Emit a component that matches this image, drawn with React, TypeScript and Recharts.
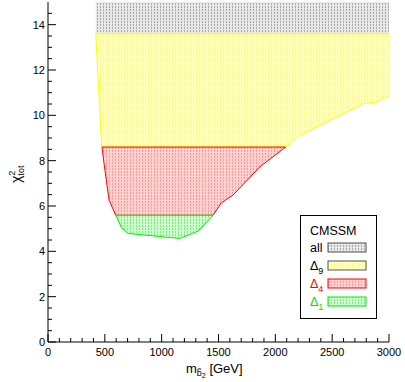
import {
  ComposedChart,
  Area,
  XAxis,
  YAxis,
  Legend,
} from "recharts";

// region boundaries: [x, low, high]
const allRegion = [
  { x: 420, band: [13.6, 15] },
  { x: 3000, band: [13.6, 15] },
];
const delta9Region = [
  { x: 420, band: [13.6, 13.6] },
  { x: 472, band: [8.6, 13.6] },
  { x: 2091, band: [8.6, 13.6] },
  { x: 2199, band: [9.07, 13.6] },
  { x: 2771, band: [10.51, 13.6] },
  { x: 2889, band: [10.59, 13.6] },
  { x: 3000, band: [10.86, 13.6] },
];
const delta4Region = [
  { x: 475, band: [8.6, 8.6] },
  { x: 493, band: [7.87, 8.6] },
  { x: 537, band: [6.26, 8.6] },
  { x: 596, band: [5.59, 8.6] },
  { x: 1452, band: [5.59, 8.6] },
  { x: 1525, band: [6.14, 8.6] },
  { x: 1628, band: [6.48, 8.6] },
  { x: 1862, band: [7.72, 8.6] },
  { x: 2091, band: [8.6, 8.6] },
];
const delta1Region = [
  { x: 596, band: [5.59, 5.59] },
  { x: 646, band: [5.05, 5.59] },
  { x: 704, band: [4.79, 5.59] },
  { x: 1159, band: [4.57, 5.59] },
  { x: 1320, band: [4.89, 5.59] },
  { x: 1452, band: [5.59, 5.59] },
];

const xMajor = [0, 500, 1000, 1500, 2000, 2500, 3000];
const yMajor = [0, 2, 4, 6, 8, 10, 12, 14];
const xTicks = Array.from({ length: 31 }, (_, i) => i * 100);
const yTicks = Array.from({ length: 30 }, (_, i) => i * 0.5);

const FONT = "Liberation Sans, Arial, sans-serif";

const hatches = [
  { id: "hAll", bg: "#e8e8e8", fg: "#a8a8a8" },
  { id: "hD9", bg: "#ffffc4", fg: "#ffff70" },
  { id: "hD4", bg: "#ffd2d2", fg: "#ff9a9a" },
  { id: "hD1", bg: "#d2ffd2", fg: "#78f078" },
];

const legendRows = [
  { label: "all", sub: "", color: "#000", fill: "url(#hAll)", border: "#555" },
  { label: "\u0394", sub: "9", color: "#000", fill: "url(#hD9)", border: "#555" },
  { label: "\u0394", sub: "4", color: "#ff0000", fill: "url(#hD4)", border: "#ff0000" },
  { label: "\u0394", sub: "1", color: "#00dd00", fill: "url(#hD1)", border: "#00ee00" },
];

const BottomTick = (props: any) => {
  const { x, y, payload } = props;
  const major = xMajor.includes(payload.value);
  return (
    <g>
      <line x1={x} x2={x} y1={y} y2={y - (major ? 8 : 4)} stroke="#000" />
      {major && (
        <text x={x} y={y + 14} textAnchor="middle" fontSize={11} fontFamily={FONT} fill="#000">
          {payload.value}
        </text>
      )}
    </g>
  );
};

const TopTick = (props: any) => {
  const { x, y, payload } = props;
  const major = xMajor.includes(payload.value);
  return <line x1={x} x2={x} y1={y} y2={y + (major ? 8 : 4)} stroke="#000" />;
};

const LeftTick = (props: any) => {
  const { x, y, payload } = props;
  const major = yMajor.includes(payload.value);
  return (
    <g>
      <line x1={x} x2={x + (major ? 8 : 4)} y1={y} y2={y} stroke="#000" />
      {major && (
        <text x={x - 3} y={y + 4} textAnchor="end" fontSize={11} fontFamily={FONT} fill="#000">
          {payload.value}
        </text>
      )}
    </g>
  );
};

const RightTick = (props: any) => {
  const { x, y, payload } = props;
  const major = yMajor.includes(payload.value);
  return <line x1={x} x2={x - (major ? 8 : 4)} y1={y} y2={y} stroke="#000" />;
};

const LegendBox = () => (
  <svg width={77} height={105} style={{ display: "block" }}>
    <rect x={0.5} y={0.5} width={76} height={103} fill="#fff" stroke="#000" />
    <text x={10} y={20} fontSize={12.5} fontFamily={FONT}>CMSSM</text>
    {legendRows.map((r, i) => (
      <g key={i}>
        <text x={10} y={37 + i * 18} fontSize={12.5} fontFamily={FONT} fill={r.color}>
          {r.label}
          {r.sub && (
            <tspan fontSize={9} dy={4}>{r.sub}</tspan>
          )}
        </text>
        <rect x={28} y={28 + i * 18} width={38} height={9} fill={r.fill} stroke={r.border} />
      </g>
    ))}
  </svg>
);

export default function App() {
  return (
    <div style={{ position: "absolute", left: 0, top: 0, background: "#fff" }}>
      <ComposedChart
        width={405}
        height={382}
        margin={{ top: 2, right: 16, bottom: 0, left: 0 }}
      >
        <defs>
          {hatches.map((h) => (
            <pattern key={h.id} id={h.id} width={3} height={3} patternUnits="userSpaceOnUse">
              <rect width={3} height={3} fill={h.bg} />
              <rect x={1} y={0} width={1} height={2} fill={h.fg} />
            </pattern>
          ))}
        </defs>
        <XAxis
          xAxisId="b"
          dataKey="x"
          type="number"
          domain={[0, 3000]}
          ticks={xTicks}
          interval={0}
          height={40}
          tickSize={0}
          tickMargin={0}
          tickLine={false}
          tick={<BottomTick />}
          stroke="#000"
          allowDataOverflow
        />
        <XAxis
          xAxisId="t"
          orientation="top"
          type="number"
          domain={[0, 3000]}
          ticks={xTicks}
          interval={0}
          height={0}
          tickSize={0}
          tickMargin={0}
          tickLine={false}
          tick={<TopTick />}
          stroke="#000"
        />
        <YAxis
          yAxisId="l"
          type="number"
          domain={[0, 15]}
          ticks={yTicks}
          interval={0}
          width={48}
          tickSize={0}
          tickMargin={0}
          tickLine={false}
          tick={<LeftTick />}
          stroke="#000"
          allowDataOverflow
        />
        <YAxis
          yAxisId="r"
          orientation="right"
          type="number"
          domain={[0, 15]}
          ticks={yTicks}
          interval={0}
          width={0}
          tickSize={0}
          tickMargin={0}
          tickLine={false}
          tick={<RightTick />}
          stroke="#000"
        />
        <Area
          data={allRegion}
          xAxisId="b"
          yAxisId="l"
          dataKey="band"
          type="linear"
          fill="url(#hAll)"
          fillOpacity={1}
          stroke="none"
          isAnimationActive={false}
        />
        <Area
          data={delta9Region}
          xAxisId="b"
          yAxisId="l"
          dataKey="band"
          type="linear"
          fill="url(#hD9)"
          fillOpacity={1}
          stroke="#ffff00"
          isAnimationActive={false}
        />
        <Area
          data={delta4Region}
          xAxisId="b"
          yAxisId="l"
          dataKey="band"
          type="linear"
          fill="url(#hD4)"
          fillOpacity={1}
          stroke="#ff0000"
          isAnimationActive={false}
        />
        <Area
          data={delta1Region}
          xAxisId="b"
          yAxisId="l"
          dataKey="band"
          type="linear"
          fill="url(#hD1)"
          fillOpacity={1}
          stroke="#00ee00"
          isAnimationActive={false}
        />
        <Legend
          layout="horizontal"
          verticalAlign="middle"
          content={<LegendBox />}
          wrapperStyle={{ position: "absolute", left: 300, top: 215, width: 77, height: 105 }}
        />
        <text x={186} y={373} fontSize={13} fontFamily={FONT} fill="#000">
          m
          <tspan fontSize={9} dy={3}>{"b\u0303"}</tspan>
          <tspan fontSize={7} dy={2}>2</tspan>
          <tspan fontSize={13} dy={-5}>{" [GeV]"}</tspan>
        </text>
        <text
          x={0}
          y={0}
          transform="translate(21,183) rotate(-90)"
          fontSize={14}
          fontFamily={FONT}
          fill="#000"
        >
          {"\u03c7"}
          <tspan fontSize={9} dy={-6}>2</tspan>
          <tspan fontSize={9} dx={-5} dy={9}>tot</tspan>
        </text>
      </ComposedChart>
    </div>
  );
}
